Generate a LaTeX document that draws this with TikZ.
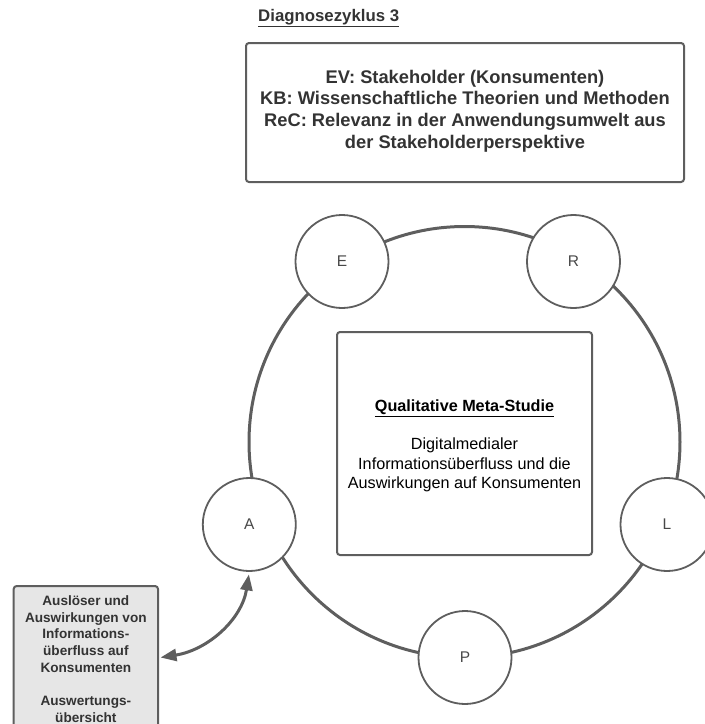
\documentclass[tikz,border=0pt]{standalone}
\usepackage{fontspec}
\setmainfont{Liberation Sans}
\usetikzlibrary{arrows.meta}

\definecolor{linegray}{HTML}{5E5E5E}
\definecolor{textdark}{HTML}{333333}
\definecolor{lettergray}{HTML}{484848}
\definecolor{panelfill}{HTML}{E6E6E6}

\tikzset{
  x=1pt, y=-1pt,
  ring/.style={draw=linegray, line width=3pt},
  phase/.style={circle, draw=linegray, line width=1.8pt, fill=white,
    minimum size=93pt, inner sep=0pt, text=lettergray,
    font=\fontsize{15.5}{18}\selectfont},
  infobox/.style={draw=linegray, line width=2pt, rounded corners=3pt,
    fill=white, inner sep=0pt},
  boxtext/.style={align=center, inner sep=0pt},
  sidebox/.style={draw=linegray, line width=2pt, rounded corners=3pt,
    fill=panelfill, align=center, inner sep=0pt, text=textdark,
    font=\bfseries\fontsize{13.6}{16.7}\selectfont},
  conn/.style={draw=linegray, line width=3pt,
    >={Triangle[length=16pt, width=12pt]}},
}

\begin{document}
\begin{tikzpicture}
\useasboundingbox (0,0) rectangle (705,724);
\clip (0,0) rectangle (705,724);

% heading
\node[anchor=west, text=textdark, inner sep=0pt,
      font=\bfseries\fontsize{16.8}{20}\selectfont] (title) at (258,18)
  {\underline{Diagnosezyklus 3}};

% cycle description box and its text
\node[infobox, minimum width=438pt, minimum height=139pt] (ev) at (465,112.5) {};
\node[boxtext, text=textdark,
      font=\bfseries\fontsize{18.3}{21.7}\selectfont] (evtext) at (465,111)
  {EV: Stakeholder (Konsumenten)\\
   KB: Wissenschaftliche Theorien und Methoden\\
   ReC: Relevanz in der Anwendungsumwelt aus\\
   der Stakeholderperspektive};

% the cycle ring
\draw[ring] (464.5,442) circle[radius=215.5];

% central study box and its text
\node[infobox, minimum width=255pt, minimum height=223pt] (study) at (464.5,443.5) {};
\node[boxtext, text=black, font=\fontsize{16.2}{19.5}\selectfont]
  (studytext) at (464.5,446)
  {\textbf{\underline{Qualitative Meta-Studie}}\\[19pt]
   Digitalmedialer\\
   Informationsüberfluss und die\\
   Auswirkungen auf Konsumenten};

% phases on the ring
\node[phase] (E) at (342,261.5) {E};
\node[phase] (R) at (573.5,261.5) {R};
\node[phase] (A) at (249.3,524.5) {A};
\node[phase] (L) at (667,524.5) {L};
\node[phase] (P) at (465,657.5) {P};

% result panel
\node[sidebox, minimum width=144.3pt, minimum height=146pt, anchor=north west]
  (trig) at (12.7,585)
  {Auslöser und\\
   Auswirkungen von\\
   Informations-\\
   überfluss auf\\
   Konsumenten\\[16.7pt]
   Auswertungs-\\
   übersicht};

\coordinate (trigIn) at (160.5,657.5);

% link between phase A and the panel
\draw[conn, <->, shorten <=2.5pt] (A.south) to[out=-99, in=9] (trigIn);
\end{tikzpicture}
\end{document}
